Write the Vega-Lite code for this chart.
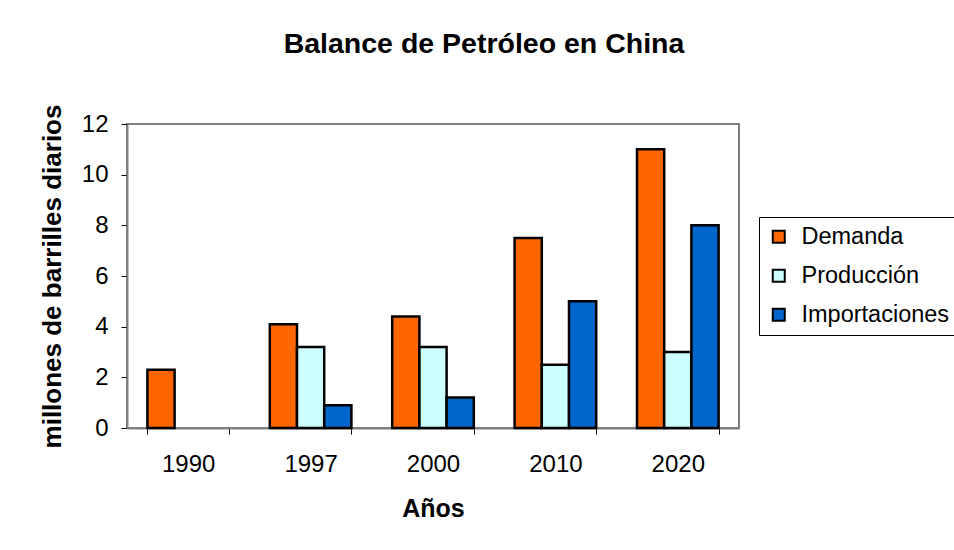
{
  "$schema": "https://vega.github.io/schema/vega-lite/v6.json",
  "width": 612,
  "height": 304,
  "autosize": {"type": "none"},
  "padding": {"left": 127, "top": 124, "right": 215, "bottom": 122},
  "background": "white",
  "title": {
    "text": "Balance de Petróleo en China",
    "anchor": "middle",
    "dx": 51,
    "offset": 46,
    "font": "Liberation Sans",
    "fontSize": 28.5,
    "fontWeight": "bold",
    "color": "black"
  },
  "data": {
    "values": [
      {"anio": "1990", "serie": "Demanda", "valor": 2.3},
      {"anio": "1997", "serie": "Demanda", "valor": 4.1},
      {"anio": "1997", "serie": "Producción", "valor": 3.2},
      {"anio": "1997", "serie": "Importaciones", "valor": 0.9},
      {"anio": "2000", "serie": "Demanda", "valor": 4.4},
      {"anio": "2000", "serie": "Producción", "valor": 3.2},
      {"anio": "2000", "serie": "Importaciones", "valor": 1.2},
      {"anio": "2010", "serie": "Demanda", "valor": 7.5},
      {"anio": "2010", "serie": "Producción", "valor": 2.5},
      {"anio": "2010", "serie": "Importaciones", "valor": 5.0},
      {"anio": "2020", "serie": "Demanda", "valor": 11.0},
      {"anio": "2020", "serie": "Producción", "valor": 3.0},
      {"anio": "2020", "serie": "Importaciones", "valor": 8.0}
    ]
  },
  "mark": {"type": "bar", "stroke": "black", "strokeWidth": 2.5},
  "encoding": {
    "x": {
      "field": "anio",
      "type": "nominal",
      "scale": {"paddingInner": 0.3333, "paddingOuter": 0.1667},
      "axis": {
        "title": "Años",
        "labelAngle": 0,
        "tickBand": "extent",
        "tickSize": 6,
        "tickColor": "black",
        "domainColor": "#808080",
        "domainWidth": 2,
        "labelFont": "Liberation Sans",
        "labelFontSize": 24,
        "labelColor": "black",
        "labelPadding": 18,
        "titleFont": "Liberation Sans",
        "titleFontSize": 25,
        "titleFontWeight": "bold",
        "titleColor": "black",
        "titlePadding": 20
      }
    },
    "xOffset": {
      "field": "serie",
      "type": "nominal",
      "scale": {"domain": ["Demanda", "Producción", "Importaciones"], "paddingInner": 0, "paddingOuter": 0}
    },
    "y": {
      "field": "valor",
      "type": "quantitative",
      "scale": {"domain": [0, 12], "nice": false},
      "axis": {
        "title": "millones de barrilles diarios",
        "values": [0, 2, 4, 6, 8, 10, 12],
        "grid": false,
        "tickSize": 6,
        "tickColor": "black",
        "domainColor": "#808080",
        "domainWidth": 2,
        "labelFont": "Liberation Sans",
        "labelFontSize": 24,
        "labelColor": "black",
        "labelPadding": 13,
        "titleFont": "Liberation Sans",
        "titleFontSize": 26,
        "titleFontWeight": "bold",
        "titleColor": "black",
        "titlePadding": 16
      }
    },
    "color": {
      "field": "serie",
      "type": "nominal",
      "scale": {
        "domain": ["Demanda", "Producción", "Importaciones"],
        "range": ["#FF6600", "#CCFFFF", "#0066CC"]
      },
      "legend": {
        "title": null,
        "orient": "none",
        "legendX": 632,
        "legendY": 93,
        "strokeColor": "black",
        "fillColor": "white",
        "padding": 8,
        "symbolType": "square",
        "symbolSize": 144,
        "symbolStrokeColor": "black",
        "symbolStrokeWidth": 2,
        "symbolOpacity": 1,
        "labelFont": "Liberation Sans",
        "labelFontSize": 23.5,
        "labelColor": "black",
        "labelOffset": 11,
        "rowPadding": 14
      }
    }
  },
  "config": {
    "view": {"stroke": "#808080", "strokeWidth": 2}
  }
}
